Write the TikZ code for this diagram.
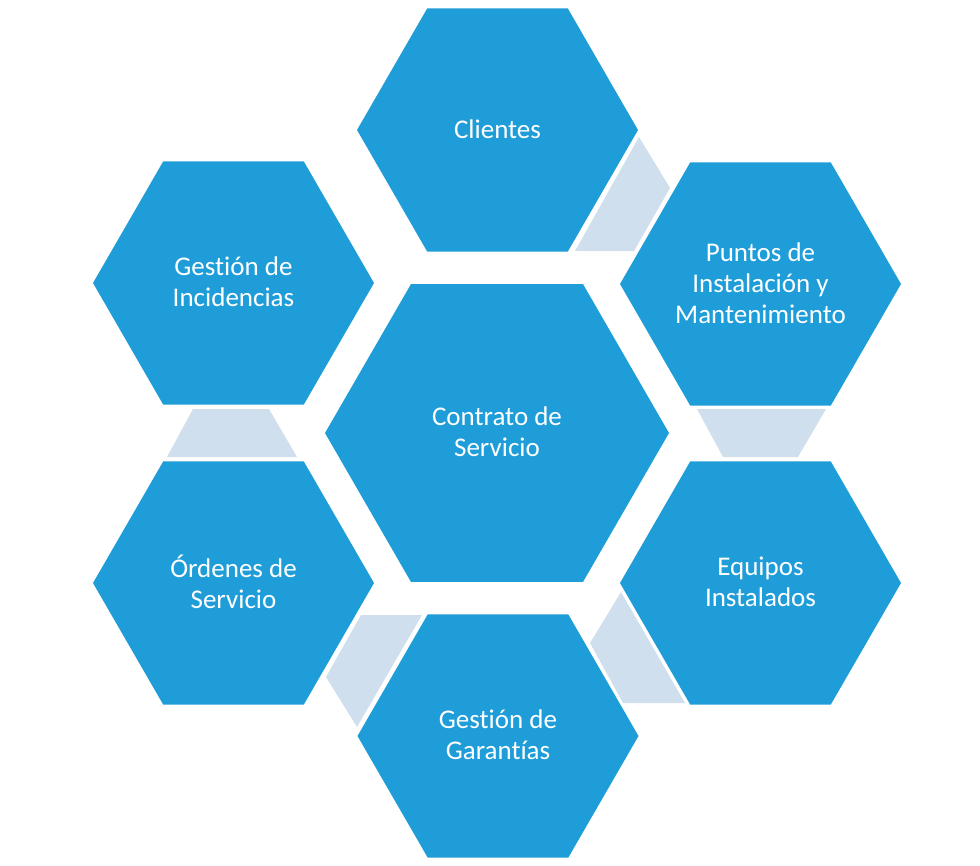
\documentclass[tikz,border=0pt]{standalone}
\usepackage{fontspec}
\setmainfont[Ligatures={NoCommon}]{Carlito}
\usetikzlibrary{shapes.geometric}
\definecolor{hexblue}{RGB}{30,157,217}
\definecolor{linkblue}{RGB}{207,223,238}
\tikzset{
  outerhex/.style={regular polygon, regular polygon sides=6, minimum size=281pt, inner sep=0pt, fill=hexblue, draw=none},
  centerhex/.style={regular polygon, regular polygon sides=6, minimum size=344pt, inner sep=0pt, fill=hexblue, draw=none},
  hextext/.style={text=white, align=center, font=\fontsize{27}{31}\selectfont, inner sep=0pt, yshift=1pt},
  linkshape/.style={fill=linkblue, draw=none}
}
\begin{document}
\begin{tikzpicture}[x=1pt,y=-1pt]
\useasboundingbox (0,0) rectangle (980,865);
% link shapes
\fill[linkshape] (639,137) -- (670,188) -- (634,251) -- (575,251) -- cycle;
\fill[linkshape] (697,409) -- (826,409) -- (798,457) -- (723,457) -- cycle;
\fill[linkshape] (621,592) -- (685,703) -- (623,703) -- (590,643) -- cycle;
\fill[linkshape] (361,615) -- (422,615) -- (357,727) -- (326,677) -- cycle;
\fill[linkshape] (193,409) -- (269,409) -- (297,457) -- (167,457) -- cycle;
% hexagons
\node[centerhex] (contrato) at (497,433) {};
\node[outerhex] (clientes) at (497.5,130) {};
\node[outerhex] (puntos) at (760.5,284) {};
\node[outerhex] (equipos) at (760.5,583) {};
\node[outerhex] (garantias) at (498,736) {};
\node[outerhex] (ordenes) at (233.5,583) {};
\node[outerhex] (incidencias) at (233.5,283) {};
% texts
\node[hextext] (tcontrato) at (contrato.center) {Contrato de\\Servicio};
\node[hextext] (tclientes) at (clientes.center) {Clientes};
\node[hextext] (tpuntos) at (puntos.center) {Puntos de\\Instalación y\\Mantenimiento};
\node[hextext] (tequipos) at (equipos.center) {Equipos\\Instalados};
\node[hextext] (tgarantias) at (garantias.center) {Gestión de\\Garantías};
\node[hextext] (tordenes) at (ordenes.center) {Órdenes de\\Servicio};
\node[hextext] (tincidencias) at (incidencias.center) {Gestión de\\Incidencias};
\end{tikzpicture}
\end{document}
